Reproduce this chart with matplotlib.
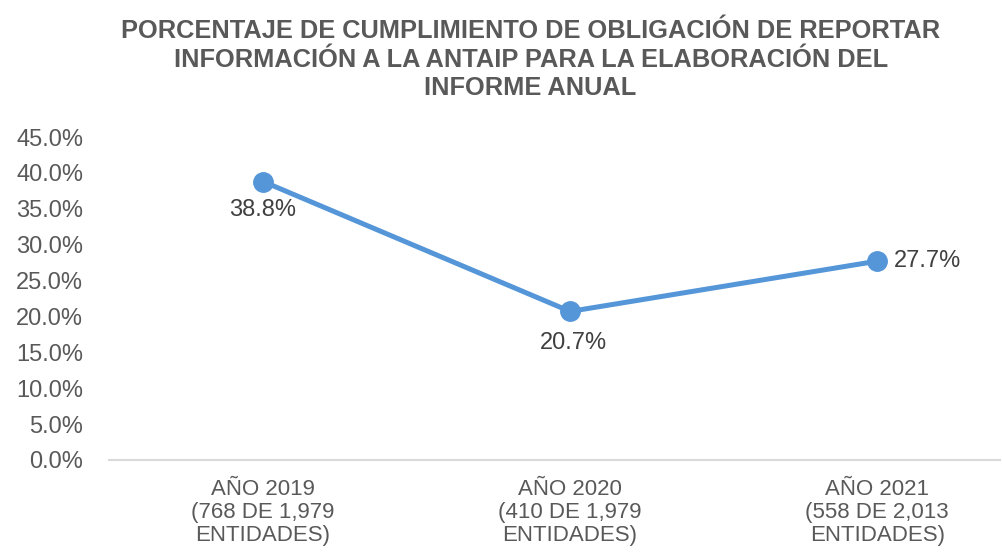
import matplotlib.pyplot as plt
from matplotlib.ticker import FuncFormatter

# Data
categories = ["AÑO 2019\n(768 DE 1,979\nENTIDADES)",
              "AÑO 2020\n(410 DE 1,979\nENTIDADES)",
              "AÑO 2021\n(558 DE 2,013\nENTIDADES)"]
values = [0.388, 0.207, 0.277]
label_text = ["38.8%", "20.7%", "27.7%"]
yticks = [0.0, 0.05, 0.10, 0.15, 0.20, 0.25, 0.30, 0.35, 0.40, 0.45]

plt.rcParams['font.family'] = ['Liberation Sans', 'DejaVu Sans']

fig = plt.figure(figsize=(10.03, 5.54), dpi=100)
ax = fig.add_axes([109.5 / 1003, 94 / 554, 890.5 / 1003, 323 / 554])

x = list(range(len(values)))
ax.plot(x, values, color="#5596d9", linewidth=3.6, marker="o", markersize=14,
        solid_capstyle="round", zorder=3)

# data labels
ax.annotate(label_text[0], (x[0], values[0]), xytext=(0, -28), textcoords="offset pixels",
            ha="center", va="center", fontsize=17, color="#404040")
ax.annotate(label_text[1], (x[1], values[1]), xytext=(3, -32), textcoords="offset pixels",
            ha="center", va="center", fontsize=17, color="#404040")
ax.annotate(label_text[2], (x[2], values[2]), xytext=(17, 0), textcoords="offset pixels",
            ha="left", va="center", fontsize=17, color="#404040")

ax.set_xlim(-0.5, 2.40)
ax.set_ylim(0, 0.45)
ax.set_yticks(yticks)
ax.yaxis.set_major_formatter(FuncFormatter(lambda v, p: f"{v * 100:.1f}%"))
ax.set_xticks(x)
ax.set_xticklabels(categories, fontsize=16, color="#595959", linespacing=1.1)
ax.tick_params(axis="y", length=0, pad=19, labelsize=17, labelcolor="#595959")
ax.tick_params(axis="x", length=0, pad=14)

for s in ["top", "right", "left"]:
    ax.spines[s].set_visible(False)
ax.spines["bottom"].set_color("#d9d9d9")
ax.spines["bottom"].set_linewidth(1.5)

fig.text(0.529, 0.966,
         "PORCENTAJE DE CUMPLIMIENTO DE OBLIGACIÓN DE REPORTAR\n"
         "INFORMACIÓN A LA ANTAIP PARA LA ELABORACIÓN DEL\nINFORME ANUAL",
         ha="center", va="top", fontsize=18.3, fontweight="bold", color="#595959",
         linespacing=1.25)

fig.savefig("out.png", dpi=100)
